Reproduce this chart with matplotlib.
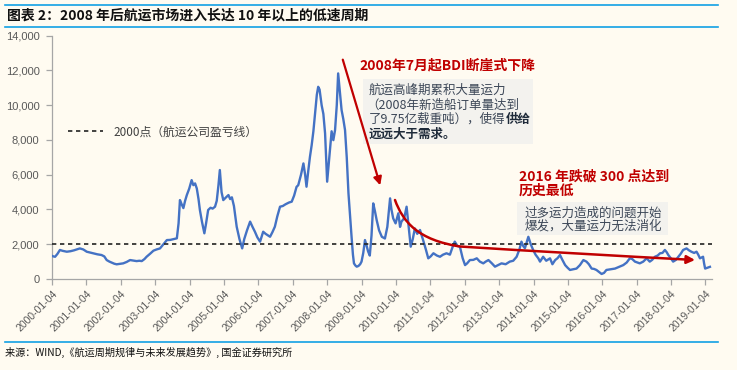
import matplotlib
matplotlib.use('Agg')
import matplotlib.pyplot as plt
from matplotlib.lines import Line2D
from matplotlib.patches import Rectangle, FancyArrowPatch
from matplotlib.path import Path
from matplotlib.text import Annotation
from matplotlib.ticker import FuncFormatter

plt.rcParams['font.family'] = ['Noto Sans CJK SC', 'DejaVu Sans']

# ---------------- data ----------------
t_years = [
    2000.00, 2000.05, 2000.10, 2000.17, 2000.24, 2000.32, 2000.44, 2000.55, 2000.65, 2000.82,
    2000.92, 2001.02, 2001.12, 2001.21, 2001.33, 2001.45, 2001.53, 2001.60, 2001.68, 2001.75,
    2001.82, 2001.89, 2001.98, 2002.08, 2002.18, 2002.28, 2002.38, 2002.47, 2002.55, 2002.62,
    2002.70, 2002.76, 2002.86, 2002.96, 2003.05, 2003.15, 2003.25, 2003.35, 2003.45, 2003.55,
    2003.64, 2003.69, 2003.73, 2003.78, 2003.83, 2003.88, 2003.93, 2004.00, 2004.07, 2004.12,
    2004.17, 2004.22, 2004.27, 2004.31, 2004.37, 2004.44, 2004.49, 2004.55, 2004.62, 2004.68,
    2004.75, 2004.80, 2004.85, 2004.89, 2004.94, 2004.99, 2005.07, 2005.14, 2005.19, 2005.24,
    2005.30, 2005.38, 2005.46, 2005.54, 2005.60, 2005.68, 2005.77, 2005.84, 2005.91, 2005.98,
    2006.06, 2006.15, 2006.22, 2006.35, 2006.42, 2006.49, 2006.56, 2006.64, 2006.72, 2006.80,
    2006.90, 2006.98, 2007.05, 2007.12, 2007.17, 2007.25, 2007.32, 2007.37, 2007.41, 2007.46,
    2007.51, 2007.56, 2007.61, 2007.66, 2007.71, 2007.75, 2007.79, 2007.85, 2007.90, 2007.95,
    2007.98, 2008.01, 2008.05, 2008.09, 2008.14, 2008.19, 2008.24, 2008.29, 2008.33, 2008.37,
    2008.43, 2008.48, 2008.53, 2008.58, 2008.63, 2008.68, 2008.72, 2008.76, 2008.79, 2008.83,
    2008.87, 2008.92, 2008.97, 2009.01, 2009.06, 2009.11, 2009.16, 2009.20, 2009.25, 2009.30,
    2009.35, 2009.40, 2009.45, 2009.52, 2009.60, 2009.69, 2009.76, 2009.84, 2009.88, 2009.93,
    2010.00, 2010.08, 2010.13, 2010.17, 2010.25, 2010.32, 2010.38, 2010.44, 2010.50, 2010.56,
    2010.63, 2010.71, 2010.80, 2010.88, 2010.95, 2011.02, 2011.10, 2011.20, 2011.29, 2011.38,
    2011.48, 2011.58, 2011.65, 2011.72, 2011.80, 2011.87, 2011.95, 2012.02, 2012.08, 2012.16,
    2012.26, 2012.36, 2012.45, 2012.55, 2012.62, 2012.70, 2012.80, 2012.89, 2012.98, 2013.08,
    2013.20, 2013.32, 2013.42, 2013.52, 2013.60, 2013.66, 2013.71, 2013.76, 2013.81, 2013.86,
    2013.93, 2014.00, 2014.07, 2014.15, 2014.20, 2014.29, 2014.38, 2014.49, 2014.56, 2014.64,
    2014.71, 2014.78, 2014.85, 2014.93, 2015.00, 2015.07, 2015.16, 2015.26, 2015.36, 2015.46,
    2015.55, 2015.62, 2015.70, 2015.77, 2015.84, 2015.92, 2015.99, 2016.06, 2016.13, 2016.25,
    2016.38, 2016.50, 2016.62, 2016.72, 2016.81, 2016.88, 2016.96, 2017.03, 2017.10, 2017.20,
    2017.30, 2017.39, 2017.46, 2017.54, 2017.62, 2017.69, 2017.76, 2017.83, 2017.88, 2017.93,
    2018.00, 2018.07, 2018.15, 2018.22, 2018.29, 2018.36, 2018.46, 2018.53, 2018.60, 2018.68,
    2018.75, 2018.80, 2018.85, 2018.94, 2018.97, 2019.00, 2019.07, 2019.14,
]
bdi = [
    1340, 1300, 1280, 1450, 1670, 1620, 1570, 1600, 1650, 1760,
    1700, 1570, 1520, 1475, 1420, 1380, 1300, 1090, 1000, 940,
    880, 845, 870, 900, 980, 1090, 1060, 1030, 1050, 1030,
    1150, 1280, 1450, 1630, 1700, 1760, 2000, 2240, 2250, 2300,
    2340, 3200, 4540, 4300, 4080, 4500, 4830, 5200, 5690, 5400,
    5500, 5210, 4600, 3970, 3300, 2630, 3200, 3970, 4100, 4050,
    4160, 4500, 5400, 6270, 5000, 4540, 4700, 4830, 4600, 4700,
    4200, 3010, 2300, 1760, 2300, 2800, 3300, 3000, 2720, 2400,
    2150, 2720, 2600, 2430, 2700, 3010, 3600, 4160, 4200, 4300,
    4400, 4450, 4800, 5300, 5400, 6000, 6650, 6000, 5310, 6200,
    7030, 7700, 8500, 9530, 10600, 11060, 10900, 10000, 9500, 8380,
    7000, 5600, 6500, 7420, 8500, 7990, 8570, 10000, 11830, 11000,
    9720, 9200, 8570, 7000, 4930, 3500, 2430, 1400, 900, 780,
    710, 750, 850, 1000, 1500, 2240, 1900, 1590, 1350, 2500,
    4350, 3900, 3390, 2800, 2430, 2330, 3000, 4640, 4000, 3490,
    3200, 3780, 3000, 3300, 3500, 4160, 3000, 1860, 2300, 2910,
    2600, 2820, 2240, 1700, 1190, 1300, 1480, 1350, 1280, 1400,
    1480, 1400, 1800, 2150, 1900, 1860, 1200, 800, 900, 1090,
    1100, 1190, 1000, 900, 1000, 1090, 900, 710, 800, 900,
    850, 1000, 1050, 1280, 1700, 2150, 1900, 1770, 2100, 2430,
    2000, 1670, 1400, 1190, 1000, 1280, 1050, 1190, 850, 1090,
    1200, 1380, 1100, 800, 650, 520, 560, 600, 800, 1090,
    1000, 850, 600, 580, 520, 400, 290, 350, 520, 560,
    600, 700, 800, 950, 1190, 1150, 1000, 950, 900, 1000,
    1190, 1000, 1100, 1280, 1350, 1480, 1500, 1670, 1550, 1380,
    1200, 1000, 1100, 1280, 1450, 1670, 1760, 1650, 1570, 1500,
    1570, 1400, 1190, 1280, 900, 600, 650, 700,
]
tick_years = list(range(2000, 2020))
tick_labels = [f"{y}-01-04" for y in tick_years]
y_ticks = [0, 2000, 4000, 6000, 8000, 10000, 12000, 14000]
breakeven = 2000
legend_label = "2000点（航运公司盈亏线）"

title = "图表 2：2008 年后航运市场进入长达 10 年以上的低速周期"
source = "来源：WIND,《航运周期规律与未来发展趋势》, 国金证券研究所"
note1_title = "2008年7月起BDI断崖式下降"
note1_body = ["航运高峰期累积大量运力", "（2008年新造船订单量达到", "了9.75亿载重吨），使得",
              "供给", "远远大于需求。"]
note2_title = ["2016 年跌破 300 点达到", "历史最低"]
note2_body = ["过多运力造成的问题开始", "爆发，大量运力无法消化"]

# ---------------- styling ----------------
BG = '#FFFBF1'
BLUE_RULE = '#12A0E4'
LINE = '#4472C4'
RED = '#C00000'
BOX = '#F3F2EE'
TXT = '#3C4757'
DARK = '#1F2B3A'
W, H = 737, 370


def fx(x):
    return x / W


def fy(y):
    return 1 - y / H


fig = plt.figure(figsize=(W / 100, H / 100), dpi=100, facecolor=BG)
ax = fig.add_axes([fx(52), fy(279), (712 - 52) / W, (279 - 35.7) / H])
ax.set_facecolor(BG)

ax.plot(t_years, bdi, color=LINE, lw=1.7, solid_joinstyle='round', zorder=3)
ax.axhline(breakeven, color='#222222', lw=1.2, ls=(0, (2.6, 2.2)), zorder=4)

ax.set_xlim(2000.01, 2019.2)
ax.set_ylim(0, 14000)
ax.set_xticks([y + 0.01 for y in tick_years])
ax.set_xticklabels(tick_labels, rotation=45, ha='right', va='top',
                   rotation_mode='anchor', fontfamily='Liberation Sans',
                   fontsize=7.5, color='#595959')
ax.set_yticks(y_ticks)
ax.yaxis.set_major_formatter(FuncFormatter(lambda v, p: f"{int(v):,}"))
for lab in ax.get_yticklabels():
    lab.set_fontfamily('Liberation Sans')
ax.tick_params(axis='y', labelsize=8, labelcolor='#595959', color='#A6A6A6',
               length=4, width=0.9, pad=5)
ax.tick_params(axis='x', labelcolor='#595959', color='#A6A6A6',
               length=4, width=0.9, pad=3)
for s in ['top', 'right']:
    ax.spines[s].set_visible(False)
for s in ['left', 'bottom']:
    ax.spines[s].set_color('#A6A6A6')
    ax.spines[s].set_linewidth(0.9)

h = Line2D([], [], color='#222222', lw=1.2, ls=(0, (2.6, 2.2)))
ax.legend([h], [legend_label], loc='center left',
          bbox_to_anchor=((68 - 52) / 660, (279 - 132) / 243.3),
          frameon=False, handlelength=3.0, handletextpad=0.85,
          borderpad=0, borderaxespad=0, prop={'size': 8.5}, labelcolor='#404040')

# ---------------- header / footer rules ----------------
for yy in (5, 27, 342):
    fig.add_artist(Line2D([fx(5), fx(718)], [fy(yy), fy(yy)], transform=fig.transFigure,
                          color=BLUE_RULE, lw=1.2))
fig.text(fx(7), fy(15.5), title, fontsize=10, fontweight='bold', va='center', ha='left',
         color='#111111')
fig.text(fx(5), fy(352), source, fontsize=7.3, va='center', ha='left', color='#111111')

# ---------------- annotations ----------------
fig.add_artist(FancyArrowPatch((fx(342), fy(57)), (fx(381), fy(188)),
                               transform=fig.transFigure, arrowstyle='-|>',
                               mutation_scale=12, color=RED, lw=1.6, zorder=6))
verts = [(395, 200), (403, 222), (418, 240), (460, 246.5),
         (530, 251), (620, 256), (695, 260)]
codes = [Path.MOVETO, Path.CURVE4, Path.CURVE4, Path.CURVE4,
         Path.CURVE4, Path.CURVE4, Path.CURVE4]
curve = Path([(fx(a), fy(b)) for a, b in verts], codes)
fig.add_artist(FancyArrowPatch(path=curve, transform=fig.transFigure, arrowstyle='-|>',
                               mutation_scale=12, color=RED, lw=1.8, zorder=6))

fig.text(fx(359), fy(65), note1_title, fontsize=10, fontweight='bold', color=RED,
         va='center', ha='left', zorder=5)

fig.add_artist(Rectangle((fx(363), fy(144)), (533 - 363) / W, (144 - 79) / H,
                         transform=fig.transFigure, facecolor=BOX, edgecolor='none', zorder=1))
fig.text(fx(369), fy(90), note1_body[0], fontsize=9, color=TXT, va='center', zorder=5)
fig.text(fx(366), fy(105), note1_body[1], fontsize=9, color=TXT, va='center', zorder=5)
t3 = fig.text(fx(369), fy(119), note1_body[2], fontsize=9, color=TXT, va='center', zorder=5)
bold_part = Annotation(note1_body[3], xy=(1, 0.5), xycoords=t3, va='center', ha='left',
                       fontsize=9, fontweight='bold', color=DARK)
bold_part.set_zorder(5)
fig.add_artist(bold_part)
fig.text(fx(369), fy(134), note1_body[4], fontsize=9, fontweight='bold', color=DARK,
         va='center', zorder=5)

fig.text(fx(519), fy(177), note2_title[0], fontsize=10, fontweight='bold', color=RED,
         va='center', ha='left', zorder=5)
fig.text(fx(519), fy(191), note2_title[1], fontsize=10, fontweight='bold', color=RED,
         va='center', ha='left', zorder=5)
fig.add_artist(Rectangle((fx(517), fy(235)), (668 - 517) / W, (235 - 202) / H,
                         transform=fig.transFigure, facecolor=BOX, edgecolor='none', zorder=1))
fig.text(fx(525), fy(213), note2_body[0], fontsize=9, color=TXT, va='center', zorder=5)
fig.text(fx(525), fy(226.5), note2_body[1], fontsize=9, color=TXT, va='center', zorder=5)

fig.savefig('out.png', dpi=100, facecolor=BG)
